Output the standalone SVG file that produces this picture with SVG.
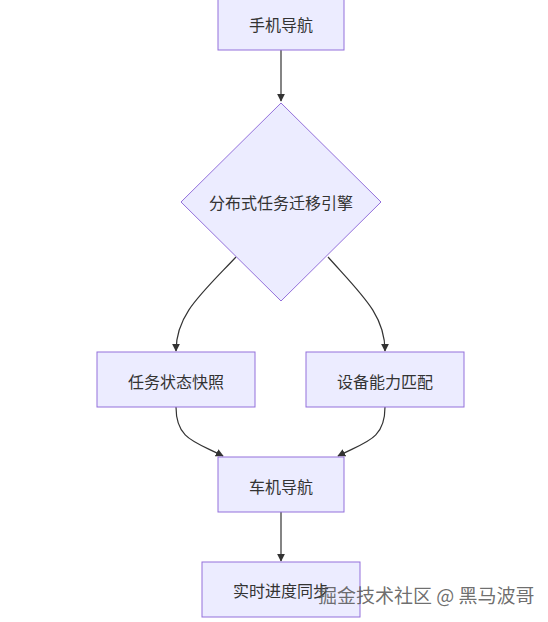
<svg xmlns="http://www.w3.org/2000/svg" width="548" height="622" viewBox="0 0 548 622">
<defs>
<style>
.node rect,.node polygon{fill:#ECECFF;stroke:#9370DB;stroke-width:1}
.lbl{font-family:"Noto Sans CJK SC","Liberation Sans",sans-serif;font-size:16px;fill:#333;text-anchor:middle;dominant-baseline:central}
.edge{fill:none;stroke:#333;stroke-width:1.2}
.wm{font-family:"Noto Sans CJK SC","Liberation Sans",sans-serif;font-size:19px;fill:#555;fill-opacity:0.85}
</style>
<marker id="arr" viewBox="0 0 10 10" refX="9" refY="5" markerWidth="8" markerHeight="8" markerUnits="userSpaceOnUse" orient="auto">
<path d="M0,0 L10,5 L0,10 z" fill="#333"/>
</marker>
</defs>
<rect width="548" height="622" fill="#fff"/>
<g id="connectors">
<path class="edge" d="M281,50 L281,101" marker-end="url(#arr)"/>
<path class="edge" d="M236,257 C200,295 176,315 176,351" marker-end="url(#arr)"/>
<path class="edge" d="M328,257 C362,295 385,315 385,351" marker-end="url(#arr)"/>
<path class="edge" d="M176,407 C176,440 196,442 223,456" marker-end="url(#arr)"/>
<path class="edge" d="M385,407 C385,440 365,442 338,456" marker-end="url(#arr)"/>
<path class="edge" d="M281,512 L281,561" marker-end="url(#arr)"/>
</g>
<g id="n1" class="node"><rect x="218" y="-5" width="126" height="55"/><text class="lbl" x="281" y="24">手机导航</text></g>
<g id="n2" class="node"><polygon points="281,103 381,202 281,301 181,202"/><text class="lbl" x="281" y="202">分布式任务迁移引擎</text></g>
<g id="n3" class="node"><rect x="97" y="352" width="158" height="55"/><text class="lbl" x="176" y="381">任务状态快照</text></g>
<g id="n4" class="node"><rect x="306" y="352" width="158" height="55"/><text class="lbl" x="385" y="381">设备能力匹配</text></g>
<g id="n5" class="node"><rect x="218" y="457" width="126" height="55"/><text class="lbl" x="281" y="486">车机导航</text></g>
<g id="n6" class="node"><rect x="202" y="562" width="158" height="55"/><text class="lbl" x="281" y="590">实时进度同步</text></g>
<text class="wm" x="318" y="603">掘金技术社区 @ 黑马波哥</text>
</svg>
